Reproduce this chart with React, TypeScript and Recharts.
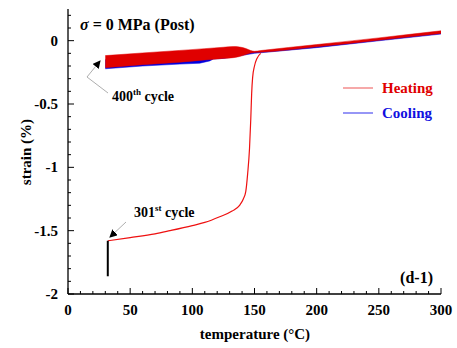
import React from 'react';
import { Area, ComposedChart, Line, XAxis, YAxis } from 'recharts';

// 400th cycle, heating (red band)
const bandT = [30, 60, 90, 110, 125, 133, 138, 143, 147, 150, 155, 200, 250, 300];
const bandLo = [-0.213, -0.19, -0.17, -0.152, -0.14, -0.134, -0.125, -0.11, -0.097, -0.093, -0.091, -0.049, 0.004, 0.057];
const bandHi = [-0.118, -0.097, -0.077, -0.063, -0.052, -0.047, -0.05, -0.062, -0.078, -0.084, -0.078, -0.031, 0.022, 0.078];

// cooling (blue band, mostly hidden under red)
const coolT = [30, 60, 90, 106, 114, 117, 125, 150, 200, 250, 300];
const coolLo = [-0.222, -0.2, -0.185, -0.178, -0.16, -0.145, -0.14, -0.1, -0.055, -0.001, 0.052];
const coolHi = [-0.15, -0.13, -0.11, -0.1, -0.09, -0.09, -0.09, -0.09, -0.045, 0.009, 0.064];

// 301st cycle, heating
const h301T = [32, 50, 70, 82, 100, 110, 122, 132, 138, 141, 143, 144.5, 146, 147, 147.7, 148.5, 150, 152, 155];
const h301S = [-1.58, -1.555, -1.525, -1.5, -1.46, -1.435, -1.39, -1.345, -1.3, -1.25, -1.19, -1.05, -0.85, -0.62, -0.42, -0.29, -0.2, -0.14, -0.1];

// start of 301st cycle (black)
const startT = [32, 32];
const startS = [-1.58, -1.86];

const xMajor = [0, 50, 100, 150, 200, 250, 300];
const yMajor = [-2, -1.5, -1, -0.5, 0];
const xTicks = Array.from({ length: 31 }, (_, i) => i * 10);
const yTicks = Array.from({ length: 23 }, (_, i) => Math.round(-20 + i) / 10);

const band = bandT.map((t, i) => ({ t, r: [bandLo[i], bandHi[i]] }));
const cool = coolT.map((t, i) => ({ t, r: [coolLo[i], coolHi[i]] }));
const h301 = h301T.map((t, i) => ({ t, s: h301S[i] }));
const start = startT.map((t, i) => ({ t, s: startS[i] }));

const FONT = '"Liberation Serif", "Times New Roman", serif';
const isMajorX = (v: number) => xMajor.includes(v);
const isMajorY = (v: number) => yMajor.some(m => Math.abs(m - v) < 1e-6);

const BottomTick = ({ x, y, payload }: any) => {
  const major = isMajorX(payload.value);
  return (
    <g>
      <line x1={x} x2={x} y1={y} y2={y - (major ? 6 : 3)} stroke="#000" />
      {major && (
        <text x={x} y={y + 21} textAnchor="middle" fontFamily={FONT} fontWeight="bold" fontSize={15} fill="#000">
          {payload.value}
        </text>
      )}
    </g>
  );
};

const TopTick = ({ x, y, payload }: any) => (
  <line x1={x} x2={x} y1={y} y2={y + (isMajorX(payload.value) ? 6 : 3)} stroke="#000" />
);

const LeftTick = ({ x, y, payload }: any) => {
  const major = isMajorY(payload.value);
  return (
    <g>
      <line x1={x} x2={x + (major ? 6 : 3)} y1={y} y2={y} stroke="#000" />
      {major && (
        <text x={x - 10} y={y + 5} textAnchor="end" fontFamily={FONT} fontWeight="bold" fontSize={15} fill="#000">
          {payload.value === 0 ? '0' : String(payload.value)}
        </text>
      )}
    </g>
  );
};

const RightTick = ({ x, y, payload }: any) => (
  <line x1={x} x2={x - (isMajorY(payload.value) ? 6 : 3)} y1={y} y2={y} stroke="#000" />
);

const bold = { fontFamily: FONT, fontWeight: 'bold' as const };

export default function App() {
  return (
    <div style={{ position: 'absolute', left: 0, top: 0, width: 457, height: 348, background: '#fff' }}>
      <ComposedChart width={457} height={348} margin={{ top: 9, right: 16, bottom: 24, left: 8 }}>
        <XAxis xAxisId="b" dataKey="t" type="number" domain={[0, 300]} ticks={xTicks} interval={0}
          allowDataOverflow height={30} tickSize={0} tickMargin={0} tickLine={false}
          axisLine={{ stroke: '#000', strokeWidth: 1.3 }} tick={<BottomTick />} />
        <XAxis xAxisId="t" orientation="top" dataKey="t" type="number" domain={[0, 300]} ticks={xTicks} interval={0}
          allowDataOverflow height={0} tickSize={0} tickMargin={0} tickLine={false}
          axisLine={{ stroke: '#000', strokeWidth: 1.3 }} tick={<TopTick />} />
        <YAxis yAxisId="l" type="number" domain={[-2, 0.25]} ticks={yTicks} interval={0}
          allowDataOverflow width={60} tickSize={0} tickMargin={0} tickLine={false}
          axisLine={{ stroke: '#000', strokeWidth: 1.3 }} tick={<LeftTick />} />
        <YAxis yAxisId="r" orientation="right" type="number" domain={[-2, 0.25]} ticks={yTicks} interval={0}
          allowDataOverflow width={0} tickSize={0} tickMargin={0} tickLine={false}
          axisLine={{ stroke: '#000', strokeWidth: 1.3 }} tick={<RightTick />} />

        <Area xAxisId="b" yAxisId="l" data={cool} dataKey="r" type="linear" fill="#0000e0" fillOpacity={1}
          stroke="#0000e0" strokeWidth={0.5} isAnimationActive={false} />
        <Area xAxisId="b" yAxisId="l" data={band} dataKey="r" type="monotone" fill="#e00000" fillOpacity={1}
          stroke="#e00000" strokeWidth={0.5} isAnimationActive={false} />
        <Line xAxisId="b" yAxisId="l" data={h301} dataKey="s" type="monotone" stroke="#ee1010" strokeWidth={1.2}
          dot={false} isAnimationActive={false} />
        <Line xAxisId="b" yAxisId="l" data={start} dataKey="s" type="linear" stroke="#000" strokeWidth={2}
          dot={false} isAnimationActive={false} />
      </ComposedChart>

      <svg width={457} height={348} style={{ position: 'absolute', left: 0, top: 0, pointerEvents: 'none' }}>
        <defs>
          <marker id="ah" markerWidth="8" markerHeight="8" refX="7" refY="4" orient="auto" markerUnits="userSpaceOnUse">
            <path d="M0,0 L8,4 L0,8 Z" fill="#000" />
          </marker>
        </defs>
        <text x={80} y={30} fontSize={16} fill="#000" {...bold}>
          <tspan fontStyle="italic">σ</tspan> = 0 MPa (Post)
        </text>

        <polyline points="108,93 87,77 100,61" fill="none" stroke="#999" strokeWidth={0.8} markerEnd="url(#ah)" />
        <text x={112} y={101} fontSize={14} fill="#000" {...bold}>
          400<tspan fontSize={9} dy={-6}>th</tspan><tspan dy={6}> cycle</tspan>
        </text>

        <line x1={126} y1={222} x2={110} y2={237} stroke="#999" strokeWidth={0.8} markerEnd="url(#ah)" />
        <text x={134} y={217} fontSize={14} fill="#000" {...bold}>
          301<tspan fontSize={9} dy={-6}>st</tspan><tspan dy={6}> cycle</tspan>
        </text>

        <line x1={343} x2={373} y1={88} y2={88} stroke="#f07070" strokeWidth={1.2} />
        <text x={382} y={93} fontSize={15} fill="#e00000" {...bold}>Heating</text>
        <line x1={343} x2={373} y1={113} y2={113} stroke="#5050f0" strokeWidth={1.2} />
        <text x={382} y={118} fontSize={15} fill="#1010e0" {...bold}>Cooling</text>

        <text x={433} y={283} fontSize={16} textAnchor="end" fill="#000" {...bold}>(d-1)</text>

        <text x={255} y={339} fontSize={15} textAnchor="middle" fill="#000" {...bold}>temperature (°C)</text>
        <text x={31} y={152} fontSize={15} textAnchor="middle" fill="#000" transform="rotate(-90 31 152)" {...bold}>
          strain (%)
        </text>
      </svg>
    </div>
  );
}
